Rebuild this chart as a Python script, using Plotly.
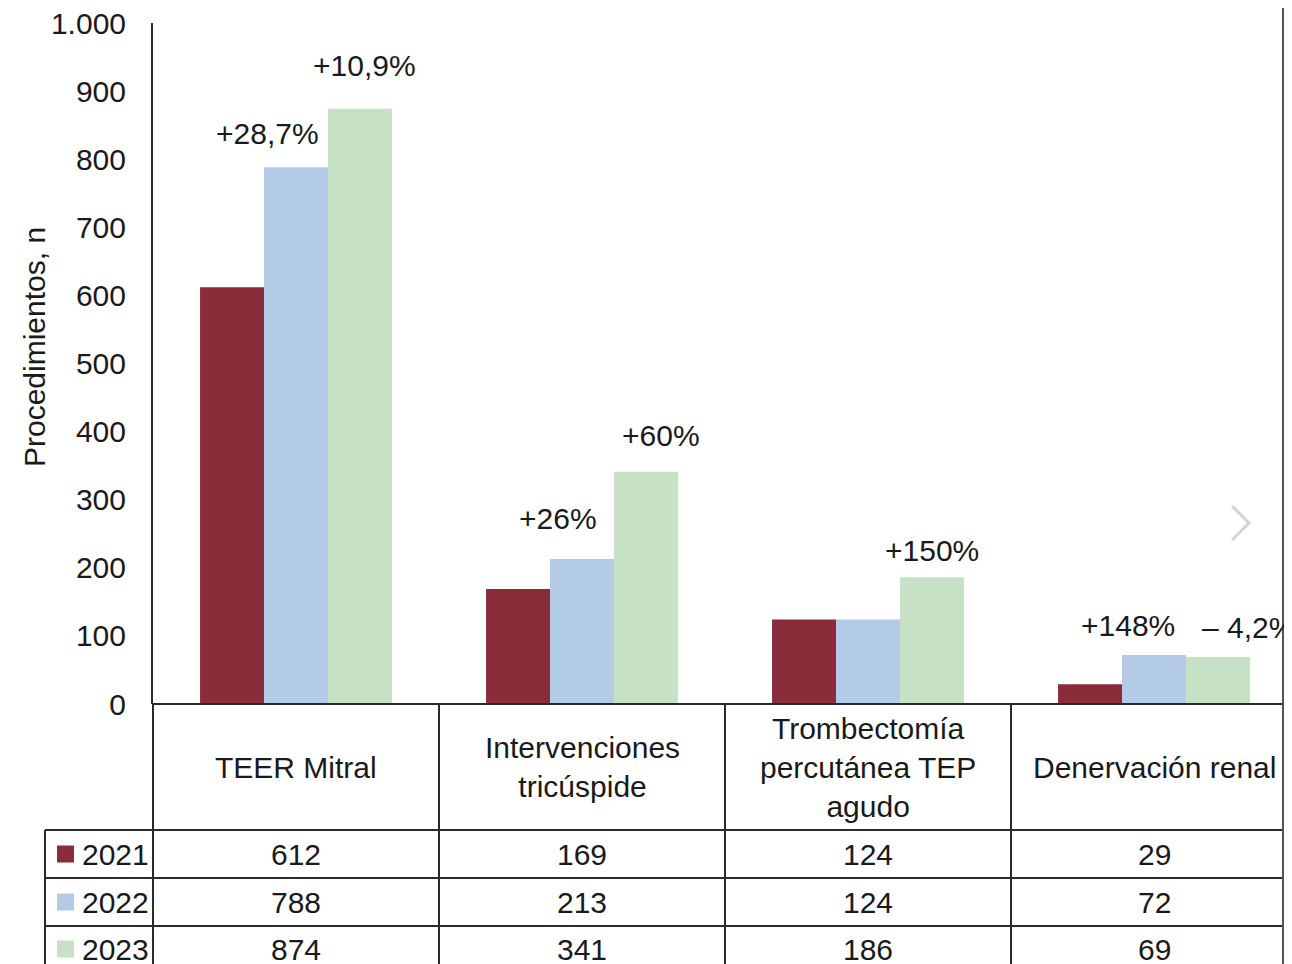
import plotly.graph_objects as go

categories = ["TEER Mitral", "Intervenciones tricúspide", "Trombectomía percutánea TEP agudo", "Denervación renal"]
category_labels = ["TEER Mitral", "Intervenciones<br>tricúspide", "Trombectomía<br>percutánea TEP<br>agudo", "Denervación renal"]
years = ["2021", "2022", "2023"]
values_2021 = [612, 169, 124, 29]
values_2022 = [788, 213, 124, 72]
values_2023 = [874, 341, 186, 69]
series_values = [values_2021, values_2022, values_2023]
colors = ["#8B2C3A", "#B4CBE8", "#C6E1C4"]
y_ticks = [0, 100, 200, 300, 400, 500, 600, 700, 800, 900, 1000]
y_tick_labels = ["0", "100", "200", "300", "400", "500", "600", "700", "800", "900", "1.000"]
change_labels = ["+28,7%", "+10,9%", "+26%", "+60%", "+150%", "+148%", "\u2013 4,2%"]

W, H = 1292, 964
OFF = 8  # page body margin offset
FONT = "Liberation Sans, Arial, Helvetica, sans-serif"
FS = 30
TXT = "#1a1a1a"
LINE = "#2a2a2a"

def py(pix):
    return (H - (pix - OFF)) / H

def px(pix):
    return (pix - OFF) / W

x_left = 153
cat_w = 286
x_max = -0.5 + (W - (x_left - OFF)) / cat_w

fig = go.Figure()
for yr, vals, col in zip(years, series_values, colors):
    fig.add_trace(go.Bar(x=list(range(len(categories))), y=vals, name=yr,
                         marker=dict(color=col, line=dict(width=0)),
                         hovertext=categories))

# change annotations: (category x position, y value, anchor)
ann_pos = [(-0.10, 838, "center"), (0.238, 938, "center"), (0.916, 272, "center"),
           (1.276, 394, "center"), (2.224, 225, "center"), (2.91, 116, "center"),
           (3.161, 112, "left")]
annotations = []
for lab, (xv, yv, xa) in zip(change_labels, ann_pos):
    annotations.append(dict(x=xv, y=yv, xref="x", yref="y", text=lab, showarrow=False,
                            xanchor=xa, yanchor="middle",
                            font=dict(family=FONT, size=FS, color=TXT)))

# y-axis title
annotations.append(dict(x=px(34), y=py(347), xref="paper", yref="paper",
                        text="Procedimientos, n", textangle=-90, showarrow=False,
                        xanchor="center", yanchor="middle",
                        font=dict(family=FONT, size=FS, color=TXT)))

# table header labels
for i, lab in enumerate(category_labels):
    annotations.append(dict(x=i, y=py(767), xref="x", yref="paper", text=lab,
                            showarrow=False, xanchor="center", yanchor="middle",
                            font=dict(family=FONT, size=FS, color=TXT)))

row_centers = [854, 902, 949]
shapes = []
for r, (yr, vals, col) in enumerate(zip(years, series_values, colors)):
    yc = row_centers[r]
    for i, v in enumerate(vals):
        annotations.append(dict(x=i, y=py(yc), xref="x", yref="paper", text=str(v),
                                showarrow=False, xanchor="center", yanchor="middle",
                                font=dict(family=FONT, size=FS, color=TXT)))
    annotations.append(dict(x=px(80), y=py(yc), xref="paper", yref="paper", text=yr,
                            showarrow=False, xanchor="left", yanchor="middle",
                            font=dict(family=FONT, size=FS, color=TXT)))
    shapes.append(dict(type="rect", xref="paper", yref="paper",
                       x0=px(57), x1=px(74), y0=py(yc - 8.5), y1=py(yc + 8.5),
                       fillcolor=col, line=dict(width=0)))

# table lines
lw = 2
shapes.append(dict(type="line", xref="paper", yref="paper", x0=px(x_left), x1=1,
                   y0=py(704), y1=py(704), line=dict(color=LINE, width=lw)))
for yl in [830, 878, 926]:
    shapes.append(dict(type="line", xref="paper", yref="paper", x0=px(45), x1=1,
                       y0=py(yl), y1=py(yl), line=dict(color=LINE, width=lw)))
shapes.append(dict(type="line", xref="paper", yref="paper", x0=px(45), x1=px(45),
                   y0=py(830), y1=0, line=dict(color=LINE, width=lw)))
shapes.append(dict(type="line", xref="paper", yref="paper", x0=px(x_left), x1=px(x_left),
                   y0=py(704), y1=0, line=dict(color=LINE, width=lw)))
for xb in [0.5, 1.5, 2.5]:
    shapes.append(dict(type="line", xref="x", yref="paper", x0=xb, x1=xb,
                       y0=py(704), y1=0, line=dict(color=LINE, width=lw)))
# right border
shapes.append(dict(type="line", xref="paper", yref="paper", x0=px(1283), x1=px(1283),
                   y0=0, y1=1, line=dict(color="#555555", width=2)))
# chevron
shapes.append(dict(type="path", xref="paper", yref="paper",
                   path=f"M {px(1232)} {py(506)} L {px(1249)} {py(523)} L {px(1232)} {py(540)}",
                   line=dict(color="#d4d4d4", width=3)))

fig.update_layout(
    width=W, height=H,
    margin=dict(l=0, r=0, t=0, b=0, pad=0, autoexpand=False),
    paper_bgcolor="white", plot_bgcolor="white",
    barmode="group", bargap=0.329, bargroupgap=0,
    showlegend=False,
    font=dict(family=FONT, size=FS, color=TXT),
    xaxis=dict(domain=[px(x_left), 1], range=[-0.5, x_max], showticklabels=False,
               showgrid=False, zeroline=False, showline=False, ticks="",
               automargin=False),
    yaxis=dict(domain=[py(704), py(23)], range=[0, 1000], tickvals=y_ticks,
               ticktext=y_tick_labels, showgrid=False, zeroline=False,
               showline=True, linecolor=LINE, linewidth=lw, ticks="",
               ticklabelstandoff=19, automargin=False, ticklabeloverflow="allow",
               tickfont=dict(family=FONT, size=FS, color=TXT)),
    annotations=annotations,
    shapes=shapes,
)

fig.write_html("out.html")
